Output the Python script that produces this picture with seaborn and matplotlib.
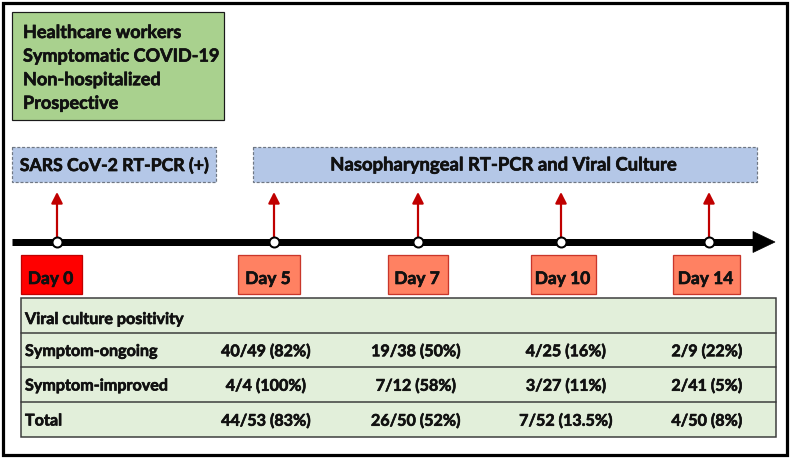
import matplotlib
matplotlib.use("Agg")
import matplotlib.pyplot as plt
import matplotlib.patches as mpatches
import matplotlib.patheffects as pe
import seaborn as sns
import pandas as pd

sns.set_theme(style="white")
plt.rcParams['font.family'] = ['Lato', 'DejaVu Sans']

# ---------------- data ----------------
study_lines = ["Healthcare workers", "Symptomatic COVID-19", "Non-hospitalized", "Prospective"]
test_labels = ["SARS CoV-2 RT-PCR (+)", "Nasopharyngeal RT-PCR and Viral Culture"]
days = ["Day 0", "Day 5", "Day 7", "Day 10", "Day 14"]
table_title = "Viral culture positivity"
row_labels = ["Symptom-ongoing", "Symptom-improved", "Total"]
ongoing = ["40/49 (82%)", "19/38 (50%)", "4/25 (16%)", "2/9 (22%)"]
improved = ["4/4 (100%)", "7/12 (58%)", "3/27 (11%)", "2/41 (5%)"]
total = ["44/53 (83%)", "26/50 (52%)", "7/52 (13.5%)", "4/50 (8%)"]

# ---------------- layout (pixels) ----------------
W, H = 790, 458
day_x = [57, 274, 418, 561, 709]
day_box = [(21, 82), (238, 300), (388, 448), (531, 596), (673, 740)]
line_y = 242

fig = plt.figure(figsize=(W / 100, H / 100), dpi=100)
ax = fig.add_axes([0, 0, 1, 1])

PT = 0.72  # px -> pt
BOLD = [pe.withStroke(linewidth=0.45, foreground="#111")]

def txt(x, y, s, size, ha="left", **kw):
    ax.text(x, y, s, fontsize=size, fontweight="bold", va="center", ha=ha,
            color="#111", path_effects=BOLD, **kw)

def rect(x0, y0, x1, y1, **kw):
    ax.add_patch(mpatches.Rectangle((x0, y0), x1 - x0, y1 - y0, **kw))

# timeline points (seaborn)
pts = pd.DataFrame({"day": days, "x": day_x, "y": [line_y] * len(days)})
sns.scatterplot(data=pts, x="x", y="y", ax=ax, s=(10 * PT) ** 2, color="white",
                edgecolor="black", linewidth=2 * PT, zorder=5, legend=False)
ax.set_xlim(0, W)
ax.set_ylim(H, 0)
ax.axis("off")

# outer frame
rect(2.5, 2.5, 786.5, 454.5, fill=False, edgecolor="black", linewidth=3.2 * PT, zorder=10)

# study description box
rect(12, 12, 224, 120, facecolor="#A9D18E", edgecolor="#1a1a1a", linewidth=1.2 * PT)
for i, t in enumerate(study_lines):
    txt(23, 32.5 + i * 23.6, t, 13.0)

# test boxes
rect(12, 147, 216, 182, facecolor="#B4C7E7", edgecolor="#6f7783", linewidth=1.2 * PT, linestyle=(0, (2.5, 1.5)))
txt(114, 165, test_labels[0], 12.7, ha="center")
rect(253, 147, 757, 182, facecolor="#B4C7E7", edgecolor="#6f7783", linewidth=1.2 * PT, linestyle=(0, (2.5, 1.5)))
txt(504, 165, test_labels[1], 13.3, ha="center")

# timeline
ax.plot([12, 756], [line_y, line_y], color="black", linewidth=7 * PT, solid_capstyle="butt", zorder=3)
ax.add_patch(mpatches.Polygon([(753, 231.5), (775, line_y), (753, 252.5)], closed=True,
                              facecolor="black", edgecolor="black", linewidth=0.5, zorder=3))

# red arrows
for x in day_x:
    ax.annotate("", xy=(x, 192), xytext=(x, line_y),
                arrowprops=dict(arrowstyle="-|>,head_length=0.55,head_width=0.28",
                                color="#C00000", linewidth=2.2 * PT, shrinkA=0, shrinkB=0),
                zorder=2)

# day boxes
for i, (d, (x0, x1)) in enumerate(zip(days, day_box)):
    fc = "#FF0000" if i == 0 else "#FF8162"
    ec = "#C00000" if i == 0 else "#C9362A"
    rect(x0, 255, x1, 294, facecolor=fc, edgecolor=ec, linewidth=1.3 * PT, zorder=4)
    txt((x0 + x1) / 2 - 1, 279, d, 12.5, ha="center", zorder=6)

# table
row_edges = [298, 333, 367, 402, 437]
rect(21, 298, 776, 437, facecolor="#E2EFDA", edgecolor="#3a3a3a", linewidth=1.5 * PT)
for y in row_edges[1:-1]:
    ax.plot([21, 776], [y, y], color="#3a3a3a", linewidth=1.5 * PT)
col_x = [266, 416, 566, 707]
TS = 11.6
txt(25, 320, table_title, TS)
for r, (lab, vals) in enumerate(zip(row_labels, [ongoing, improved, total])):
    yc = (row_edges[r + 1] + row_edges[r + 2]) / 2 + 2
    txt(25, yc, lab, TS)
    for cx, v in zip(col_x, vals):
        txt(cx, yc, v, TS, ha="center")

fig.savefig("out.png", dpi=100, facecolor="white")
